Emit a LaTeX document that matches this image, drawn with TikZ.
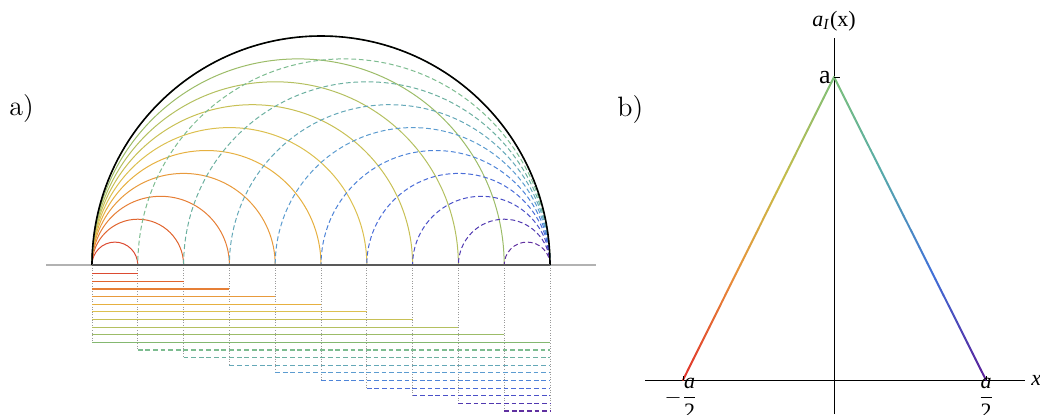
\documentclass[tikz,border=0pt]{standalone}
\usepackage{fontspec}
\usepackage{amsmath}
\newfontfamily\tms{Liberation Serif}
\usetikzlibrary{calc}
\definecolor{s1}{HTML}{DC4B32}
\definecolor{s2}{HTML}{E0642E}
\definecolor{s3}{HTML}{E67F36}
\definecolor{s4}{HTML}{E89A3C}
\definecolor{s5}{HTML}{E6B040}
\definecolor{s6}{HTML}{DCC050}
\definecolor{s7}{HTML}{C8C055}
\definecolor{s8}{HTML}{B4C060}
\definecolor{s9}{HTML}{9CBC68}
\definecolor{s10}{HTML}{84B870}
\definecolor{d1}{HTML}{7DBC90}
\definecolor{d2}{HTML}{6CB0A0}
\definecolor{d3}{HTML}{64A8B8}
\definecolor{d4}{HTML}{5C9CD0}
\definecolor{d5}{HTML}{4E84D8}
\definecolor{d6}{HTML}{4A6CD8}
\definecolor{d7}{HTML}{4A50C8}
\definecolor{d8}{HTML}{5038B0}
\definecolor{d9}{HTML}{6030A0}
\definecolor{gr}{HTML}{E0302A}
\definecolor{go}{HTML}{E8923A}
\definecolor{gy}{HTML}{C8BC48}
\definecolor{gg}{HTML}{7EC07A}
\definecolor{gt}{HTML}{58ACA8}
\definecolor{gb}{HTML}{4070D8}
\definecolor{gp}{HTML}{5A1E98}
\newcommand\gradseg[4]{%
  \foreach \i in {0,...,19}{%
    \pgfmathsetmacro\ta{\i/20}%
    \pgfmathsetmacro\tb{(\i+1)/20}%
    \pgfmathtruncatemacro\pc{100*(\i+0.5)/20}%
    \draw[triline, color=#4!\pc!#3] ($(#1)!\ta!(#2)$) -- ($(#1)!\tb!(#2)$);
  }}
\begin{document}
\begin{tikzpicture}[x=0.5pt,y=0.5pt,
  arcline/.style={line width=0.5pt},
  dashline/.style={line width=0.5pt, dash pattern=on 2.4pt off 1.4pt},
  barline/.style={line width=0.6pt},
  dbarline/.style={line width=0.6pt, dash pattern=on 2.4pt off 1.4pt},
  dotline/.style={gray!80, line width=0.45pt, dash pattern=on 0.5pt off 0.8pt},
  axisline/.style={black, line width=0.5pt},
  triline/.style={line width=1pt, line cap=round},
  panellabel/.style={anchor=base west, inner sep=0, font=\fontsize{14}{16}\selectfont}]
\useasboundingbox (0,0) rectangle (1040,414);
% ---------- panel a ----------
\draw[gray!60, line width=0.6pt] (46,149) -- (596,149);
\foreach \k in {1,...,9}
  \draw[dotline] ({92+45.8*\k},149) -- ({92+45.8*\k},{140.3-7.63*(9+\k)});
\draw[dotline] (92,149) -- (92,{140.3-7.63*9});
\draw[dotline] (550,149) -- (550,{140.3-7.63*18});
\foreach \k in {1,...,10}
  \draw[arcline, color=s\k] ({92+45.8*\k},149) arc[start angle=0, end angle=180, radius={22.9*\k}];
\foreach \j in {1,...,9}
  \draw[dashline, color=d\j] (550,149) arc[start angle=0, end angle=180, radius={22.9*(10-\j)}];
\draw[black, line width=0.8pt] (550,149) arc[start angle=0, end angle=180, radius=229];
\draw[black!65, line width=0.9pt] (92,149) -- (550,149);
\foreach \k in {1,...,10}
  \draw[barline, color=s\k] (92,{140.3-7.63*(\k-1)}) -- ({92+45.8*\k},{140.3-7.63*(\k-1)});
\foreach \j in {1,...,9}
  \draw[dbarline, color=d\j] ({92+45.8*\j},{140.3-7.63*(9+\j)}) -- (550,{140.3-7.63*(9+\j)});
\node[panellabel] (la) at (9,299) {a)};
% ---------- panel b ----------
\node[panellabel] (lb) at (617,298) {b)};
\draw[axisline] (645,34) -- (1025,34);
\draw[axisline] (834,0) -- (834,376);
\coordinate (L0) at (683,34);
\coordinate (T) at (834,337);
\coordinate (R0) at (986,34);
\coordinate (L1) at ($(L0)!0.35!(T)$);
\coordinate (L2) at ($(L0)!0.65!(T)$);
\coordinate (R1) at ($(T)!0.3!(R0)$);
\coordinate (R2) at ($(T)!0.65!(R0)$);
\gradseg{L0}{L1}{gr}{go}
\gradseg{L1}{L2}{go}{gy}
\gradseg{L2}{T}{gy}{gg}
\gradseg{T}{R1}{gg}{gt}
\gradseg{R1}{R2}{gt}{gb}
\gradseg{R2}{R0}{gb}{gp}
\draw[axisline] (T) -- ++(6,0);
\draw[axisline] (L0) -- ++(0,4);
\draw[axisline] (R0) -- ++(0,4);
\node[anchor=base, inner sep=0] (ylab) at (834,388) {\tms\fontsize{11}{12}\selectfont\textit{a}\textsubscript{\textit{I}}(x)};
\node[anchor=base east, inner sep=0] (ta) at (831,331) {\tms\fontsize{13}{14}\selectfont a};
\node[anchor=center, inner sep=0] (tl) at (681,16) {\tms\fontsize{11}{12}\selectfont $-\dfrac{\mbox{\itshape a}}{\mbox{2}}$};
\node[anchor=center, inner sep=0] (tr) at (986,16) {\tms\fontsize{11}{12}\selectfont $\dfrac{\mbox{\itshape a}}{\mbox{2}}$};
\node[anchor=base west, inner sep=0] (xl) at (1031,29) {\tms\fontsize{11}{12}\selectfont\textit{x}};
\end{tikzpicture}
\end{document}
